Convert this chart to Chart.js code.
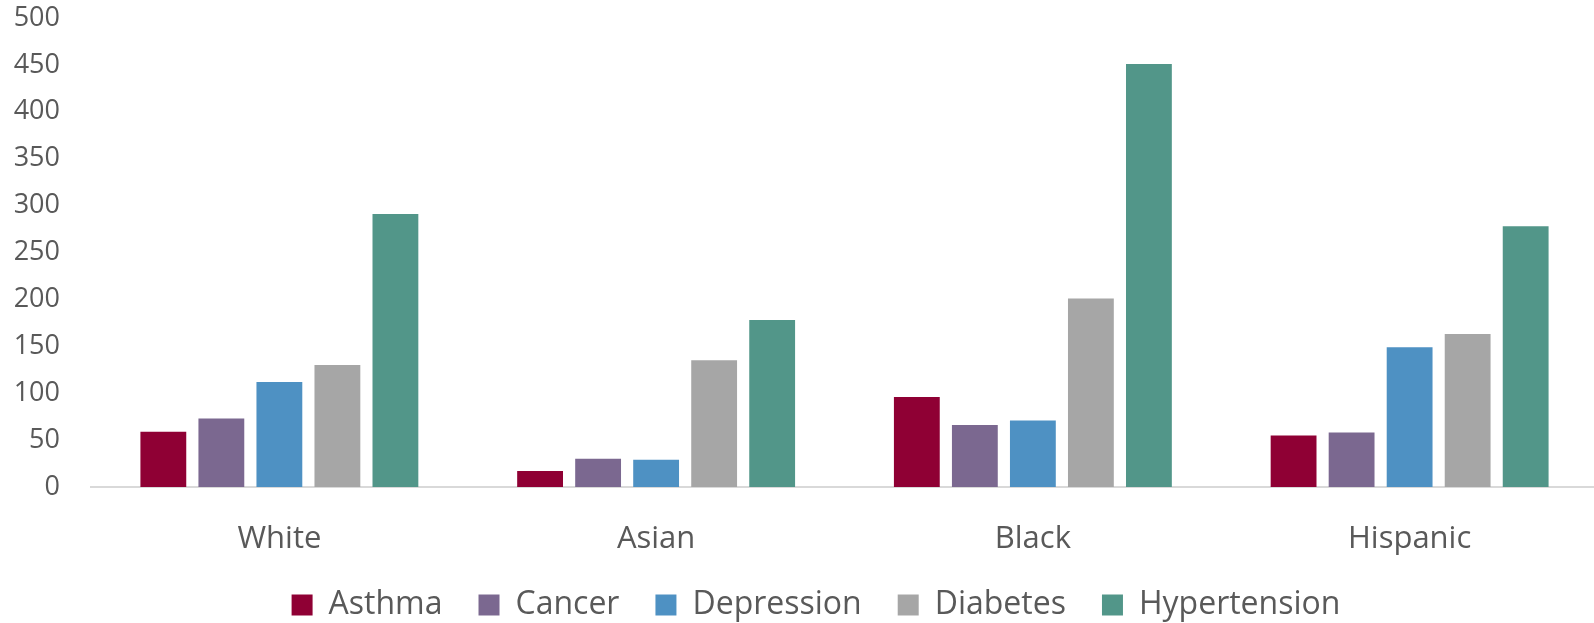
<!DOCTYPE html>
<html>
<head>
<meta charset="utf-8">
<script src="https://cdn.jsdelivr.net/npm/chart.js@4"></script>
<style>
    html, body { margin: 0; padding: 0; background: #fff; overflow: hidden; }
    #wrap { width: 1600px; height: 623px; }
</style>
</head>
<body>
<div id="wrap"><canvas id="chart"></canvas></div>
<script>
// Data
const groups = ['White', 'Asian', 'Black', 'Hispanic'];
const asthma = [59, 17, 96, 55];
const cancer = [73, 30, 66, 58];
const depression = [112, 29, 71, 149];
const diabetes = [130, 135, 201, 163];
const hypertension = [291, 178, 451, 278];

const seriesNames = ['Asthma', 'Cancer', 'Depression', 'Diabetes', 'Hypertension'];
const seriesValues = [asthma, cancer, depression, diabetes, hypertension];
const seriesColors = ['#8F0034', '#7B6890', '#4E91C3', '#A6A6A6', '#529689'];

const yTicks = [0, 50, 100, 150, 200, 250, 300, 350, 400, 450, 500];

const textColor = '#595959';
const fontFamily = "'Open Sans', sans-serif";

// nudge the legend: a bit right of centre and a bit higher than the layout puts it
const shiftLegend = {
    id: 'shiftLegend',
    afterLayout(chart) {
        if (chart.legend) {
            chart.legend.left += 34;
            chart.legend.top -= 12;
        }
    }
};

document.addEventListener('DOMContentLoaded', () => {
    const ctx = document.getElementById('chart').getContext('2d');

    new Chart(ctx, {
        type: 'bar',
        data: {
            labels: groups,
            datasets: seriesNames.map((name, i) => ({
                label: name,
                data: seriesValues[i],
                backgroundColor: seriesColors[i],
                borderWidth: 0,
                barPercentage: 0.79,
                categoryPercentage: 0.77
            }))
        },
        options: {
            responsive: true,
            maintainAspectRatio: false,
            animation: false,
            layout: {
                padding: { top: 18, right: 2, left: 0, bottom: -20 }
            },
            plugins: {
                tooltip: { enabled: false },
                legend: {
                    position: 'bottom',
                    labels: {
                        boxWidth: 21,
                        boxHeight: 21,
                        padding: 36,
                        color: textColor,
                        font: { family: fontFamily, size: 32 }
                    }
                }
            },
            scales: {
                x: {
                    afterFit: (scale) => { scale.height = 78; },
                    grid: { display: false, drawTicks: false },
                    border: { display: true, color: '#D9D9D9', width: 2 },
                    ticks: {
                        color: textColor,
                        padding: 34,
                        font: { family: fontFamily, size: 31 }
                    }
                },
                y: {
                    min: 0,
                    max: 500,
                    afterFit: (scale) => {
                        scale.width = 91;
                        scale.paddingTop = 16;
                        scale.paddingBottom = 16;
                    },
                    afterBuildTicks: (scale) => {
                        scale.ticks = yTicks.map(v => ({ value: v }));
                    },
                    grid: { display: false, drawTicks: false },
                    border: { display: false },
                    ticks: {
                        color: textColor,
                        padding: 31,
                        font: { family: fontFamily, size: 27 }
                    }
                }
            }
        },
        plugins: [shiftLegend]
    });
});
</script>
</body>
</html>
